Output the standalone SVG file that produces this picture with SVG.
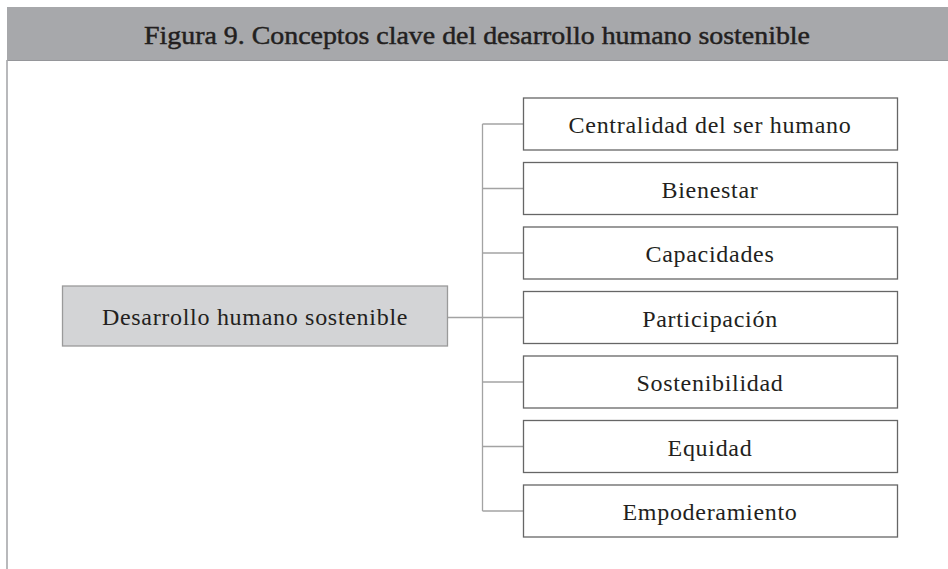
<svg xmlns="http://www.w3.org/2000/svg" width="948" height="569" viewBox="0 0 948 569">
<style>
.t{font-family:"Liberation Serif","Times New Roman",serif;fill:#231f20;text-anchor:middle}
.n{font-size:24px;letter-spacing:0.7px}
.box{fill:#ffffff;stroke:#666666;stroke-width:1.3}
.main{fill:#d3d4d6;stroke:#9a9a9a;stroke-width:1.3}
.c{stroke:#a3a3a3;stroke-width:1.3;fill:none}
</style>
<rect x="0" y="0" width="948" height="569" fill="#ffffff"/>
<g id="header">
<rect x="7" y="7" width="941" height="53" fill="#a7a8ab"/>
<line x1="7" y1="60.5" x2="948" y2="60.5" stroke="#95969a" stroke-width="1.2"/>
<text class="t" x="477" y="43.5" font-size="25" stroke="#231f20" stroke-width="0.45" textLength="666" lengthAdjust="spacingAndGlyphs">Figura 9. Conceptos clave del desarrollo humano sostenible</text>
</g>
<line x1="7" y1="60" x2="7" y2="569" stroke="#a7a8ab" stroke-width="1.6"/>
<g id="connectors">
<line class="c" x1="447" y1="317.5" x2="523" y2="317.5"/>
<line class="c" x1="482.5" y1="124" x2="482.5" y2="511"/>
<line class="c" x1="482.5" y1="124" x2="523" y2="124"/>
<line class="c" x1="482.5" y1="188.5" x2="523" y2="188.5"/>
<line class="c" x1="482.5" y1="253" x2="523" y2="253"/>
<line class="c" x1="482.5" y1="382" x2="523" y2="382"/>
<line class="c" x1="482.5" y1="446.5" x2="523" y2="446.5"/>
<line class="c" x1="482.5" y1="511" x2="523" y2="511"/>
</g>
<g id="n-main">
<rect class="main" x="62.5" y="286" width="385" height="60"/>
<text class="t n" x="255" y="325">Desarrollo humano sostenible</text>
</g>
<g id="n1">
<rect class="box" x="523.5" y="98" width="374" height="52"/>
<text class="t n" x="710" y="133">Centralidad del ser humano</text>
</g>
<g id="n2">
<rect class="box" x="523.5" y="162.5" width="374" height="52"/>
<text class="t n" x="710" y="197.5">Bienestar</text>
</g>
<g id="n3">
<rect class="box" x="523.5" y="227" width="374" height="52"/>
<text class="t n" x="710" y="262">Capacidades</text>
</g>
<g id="n4">
<rect class="box" x="523.5" y="291.5" width="374" height="52"/>
<text class="t n" x="710" y="326.5">Participación</text>
</g>
<g id="n5">
<rect class="box" x="523.5" y="356" width="374" height="52"/>
<text class="t n" x="710" y="391">Sostenibilidad</text>
</g>
<g id="n6">
<rect class="box" x="523.5" y="420.5" width="374" height="52"/>
<text class="t n" x="710" y="455.5">Equidad</text>
</g>
<g id="n7">
<rect class="box" x="523.5" y="485" width="374" height="52"/>
<text class="t n" x="710" y="520">Empoderamiento</text>
</g>
</svg>
